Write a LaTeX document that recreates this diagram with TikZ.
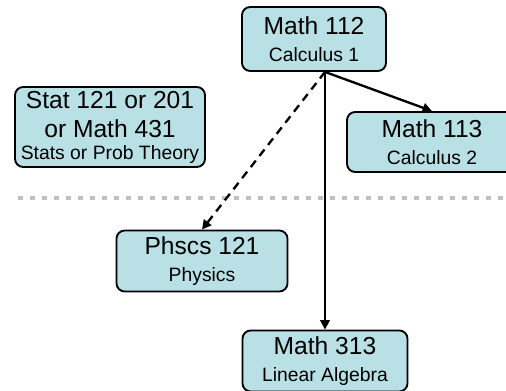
\documentclass[tikz,border=0pt]{standalone}
\usepackage{fontspec}
\setmainfont{Liberation Sans}
\usepackage{tikz}
\usetikzlibrary{arrows.meta,positioning}
\definecolor{crsfill}{RGB}{185,224,228}
\definecolor{sepgray}{RGB}{192,192,192}
\newcommand{\bigtxt}{\fontsize{21}{23}\selectfont}
\newcommand{\subtxt}{\fontsize{16.5}{23}\selectfont}

\begin{document}
\begin{tikzpicture}[
  x=0.3mm, y=-0.3mm,
  crs/.style={draw, line width=1.6pt, rounded corners=7pt, fill=crsfill,
              align=center, inner sep=0pt, font=\bigtxt,
              execute at begin node={\rule{0pt}{21pt}}},
  arr/.style={-{Triangle[length=8pt,width=8pt]}, line width=2pt},
  sep/.style={sepgray, line width=4.25pt, dash pattern=on 4.25pt off 6pt},
]
\useasboundingbox (0,0) rectangle (506,391);
\clip (0,0) rectangle (506,391);
\node[crs, minimum width=43.2mm, minimum height=19.2mm] (m112) at (314,39)
  {Math 112\\\subtxt Calculus 1};
\node[crs, minimum width=57mm, minimum height=24mm] (stat) at (110,127)
  {Stat 121 or 201\\[2.5pt]or Math 431\\[-5pt]\subtxt Stats or Prob Theory};
\node[crs, minimum width=51mm, minimum height=18mm] (m113) at (432,142)
  {Math 113\\\subtxt Calculus 2};
\node[crs, minimum width=51.3mm, minimum height=18.3mm] (phys) at (202,261)
  {Phscs 121\\\subtxt Physics};
\node[crs, minimum width=49.5mm, minimum height=18.3mm] (m313) at (325,361)
  {Math 313\\\subtxt Linear Algebra};

\draw[sep] (18,198) -- (506,198);

\coordinate (src) at (m112.south -| m313.north);
\draw[arr] (src) -- (m113.north);
\draw[arr] (src) -- (m313.north);
\draw[arr, dash pattern=on 7pt off 5pt] (src) -- (phys.north);
\end{tikzpicture}
\end{document}
